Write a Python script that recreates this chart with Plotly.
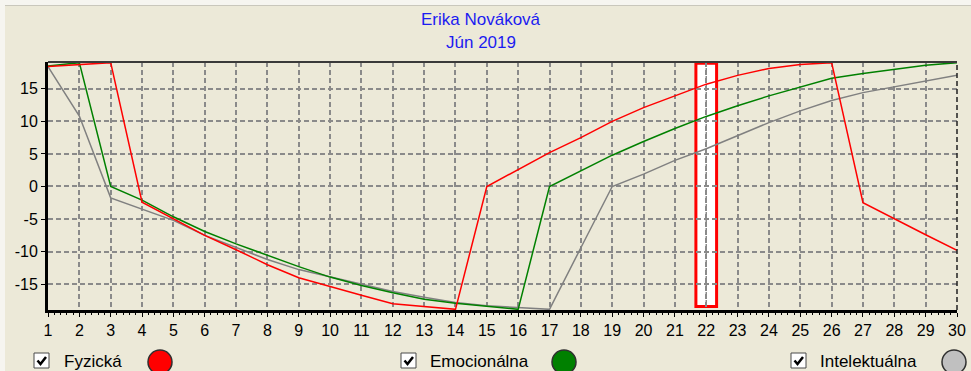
import plotly.graph_objects as go

# ---- data ---------------------------------------------------------------
days = list(range(1, 31))

fyzicka = [18.4, 18.7, 19.0, -2.4, -5.0, -7.5, -9.7, -12.0, -14.0, -15.4,
           -16.7, -18.0, -18.4, -18.85, 0.0, 2.6, 5.2, 7.5, 10.0, 12.1,
           13.9, 15.7, 17.05, 18.1, 18.7, 19.0, -2.5, -5.0, -7.4, -9.8]

emocionalna = [18.5, 19.0, 0.0, -2.1, -4.65, -6.9, -8.8, -10.6, -12.3, -13.9,
               -15.2, -16.3, -17.3, -17.9, -18.4, -18.85, 0.0, 2.4, 4.8, 6.9,
               8.9, 10.75, 12.4, 13.9, 15.3, 16.6, 17.35, 18.0, 18.6, 19.0]

intelektualna = [18.4, 10.8, -1.75, -3.5, -5.2, -7.5, -9.4, -11.2, -12.75, -13.85,
                 -14.9, -16.1, -17.0, -17.8, -18.3, -18.6, -18.85, -9.4, 0.0, 1.9,
                 4.0, 5.8, 7.8, 9.8, 11.6, 13.2, 14.4, 15.3, 16.2, 17.05]

x_tick_labels = [str(d) for d in days]
y_tick_values = [-15, -10, -5, 0, 5, 10, 15]
y_tick_labels = ["-15", "-10", "-5", "0", "5", "10", "15"]

title_lines = ["Erika Nováková", "Jún 2019"]
legend_labels = ["Fyzická", "Emocionálna", "Intelektuálna"]
selected_day = 22

# ---- styling ------------------------------------------------------------
line_colors = {"Fyzická": "#ff0000", "Emocionálna": "#008000", "Intelektuálna": "#808080"}
dot_colors = {"Fyzická": "#ff0000", "Emocionálna": "#008000", "Intelektuálna": "#c0c0c0"}
BG = "#ece9d8"
GRID = "#8a8a8a"
FONT = "Liberation Sans"

W, H = 971, 371
L, R, T, B = 48, 14, 62, 61
PW = W - L - R
PH = H - T - B


def fx(x):
    """window pixel -> paper x"""
    return (x - L) / PW


def fy(y):
    """window pixel -> paper y"""
    return (H - B - y) / PH


fig = go.Figure()

series = [("Intelektuálna", intelektualna), ("Emocionálna", emocionalna), ("Fyzická", fyzicka)]
for name, values in series:
    fig.add_trace(go.Scatter(
        x=days, y=values, mode="lines", name=name,
        line=dict(color=line_colors[name], width=1.5),
        hoverinfo="skip",
    ))

shapes = []

# highlighted day column
shapes.append(dict(type="rect", xref="x", yref="paper",
                   x0=selected_day - 0.33, x1=selected_day + 0.33, y0=0.014, y1=0.995,
                   fillcolor="white", line=dict(color="#ff0000", width=3), layer="between"))
shapes.append(dict(type="line", xref="x", yref="paper",
                   x0=selected_day, x1=selected_day, y0=0.02, y1=0.99,
                   line=dict(color=GRID, width=1.5, dash="5px,3px"), layer="between"))

# frame: solid top edge, dashed right edge
shapes.append(dict(type="line", xref="paper", yref="paper", x0=0, x1=1, y0=1, y1=1,
                   line=dict(color="#3a3a3a", width=2)))
shapes.append(dict(type="line", xref="paper", yref="paper", x0=1, x1=1, y0=0, y1=1,
                   line=dict(color="#202020", width=1.5, dash="5px,3px")))

# window edge strips
shapes.append(dict(type="rect", xref="paper", yref="paper",
                   x0=fx(0), x1=fx(W), y0=fy(0), y1=fy(5), fillcolor="#f6f5f0",
                   line=dict(width=0), layer="below"))
shapes.append(dict(type="rect", xref="paper", yref="paper",
                   x0=fx(0), x1=fx(5), y0=fy(5), y1=fy(H), fillcolor="#f6f5f0",
                   line=dict(width=0), layer="below"))
shapes.append(dict(type="line", xref="paper", yref="paper",
                   x0=fx(5), x1=fx(W), y0=fy(5.5), y1=fy(5.5),
                   line=dict(color="#c9c7bc", width=1)))

annotations = []

# title
for text, ypix in zip(title_lines, [19, 43]):
    annotations.append(dict(text=text, xref="paper", yref="paper", x=fx(481), y=fy(ypix),
                            xanchor="center", yanchor="middle", showarrow=False,
                            font=dict(family=FONT, size=17, color="#1c1cf0")))

# bottom legend: checkbox, label, coloured dot
legend_pos = [(34, 62, 160), (401, 428, 564), (791, 818, 954)]
for name, (bx, tx, cx) in zip(legend_labels, legend_pos):
    by = 353
    shapes.append(dict(type="rect", xref="paper", yref="paper",
                       x0=fx(bx), x1=fx(bx + 15), y0=fy(by), y1=fy(by + 15),
                       fillcolor="white", line=dict(color="#4a4a4a", width=1)))
    pts = [(bx + 3.5, by + 7.5), (bx + 6.5, by + 11), (bx + 12, by + 4)]
    path = "M {} {} L {} {} L {} {}".format(*[v for p in pts for v in (fx(p[0]), fy(p[1]))])
    shapes.append(dict(type="path", xref="paper", yref="paper", path=path,
                       line=dict(color="black", width=2.5)))
    annotations.append(dict(text=name, xref="paper", yref="paper", x=fx(tx), y=fy(361),
                            xanchor="left", yanchor="middle", showarrow=False,
                            font=dict(family=FONT, size=17, color="black")))
    shapes.append(dict(type="circle", xref="paper", yref="paper",
                       x0=fx(cx - 12), x1=fx(cx + 12), y0=fy(350), y1=fy(374),
                       fillcolor=dot_colors[name], line=dict(color="#303030", width=1.5)))

fig.update_layout(
    width=W, height=H,
    margin=dict(l=L, r=R, t=T, b=B, pad=0, autoexpand=False),
    paper_bgcolor=BG, plot_bgcolor=BG,
    showlegend=False,
    font=dict(family=FONT, size=16, color="black"),
    shapes=shapes, annotations=annotations,
)

fig.update_xaxes(
    range=[1, 30], tickmode="array", tickvals=days, ticktext=x_tick_labels,
    showgrid=True, gridcolor=GRID, gridwidth=1.5, griddash="5px,3px",
    showline=True, linecolor="black", linewidth=3, zeroline=False,
    ticks="outside", ticklen=4, tickwidth=1, tickcolor="black",
    minor=dict(tickmode="linear", tick0=1, dtick=0.2, ticks="outside",
               ticklen=2, tickwidth=1, tickcolor="black", showgrid=False),
    tickfont=dict(family=FONT, size=16, color="black"), fixedrange=True,
    automargin=False,
)
fig.update_yaxes(
    range=[-18.95, 19.1], tickmode="array", tickvals=y_tick_values, ticktext=y_tick_labels,
    showgrid=True, gridcolor=GRID, gridwidth=1.5, griddash="5px,3px",
    showline=True, linecolor="black", linewidth=3, zeroline=False,
    ticks="outside", ticklen=4, tickwidth=1, tickcolor="black",
    tickfont=dict(family=FONT, size=16, color="black"), fixedrange=True,
    automargin=False,
)

fig.write_html("out.html", config={"displayModeBar": False})
